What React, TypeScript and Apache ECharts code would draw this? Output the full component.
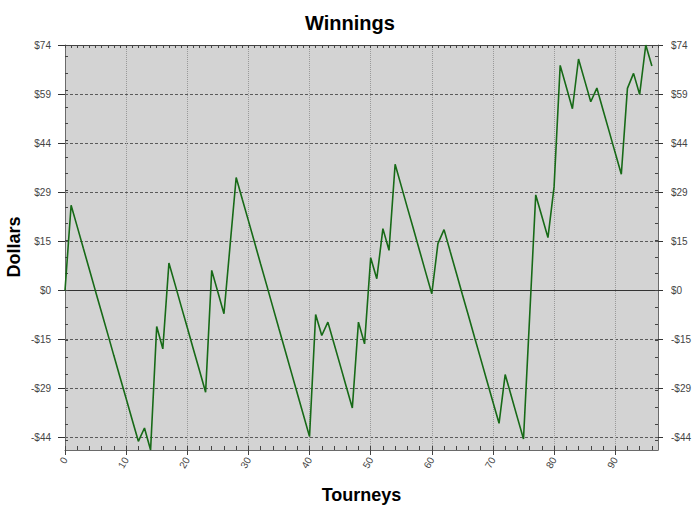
import React, { useEffect, useRef } from "react";
import * as echarts from "echarts";

// Cumulative winnings per tourney (index = tourney number)
const winnings = [
  0, 25.5, 19.1, 12.6, 6.2, -0.3, -6.7, -13.1, -19.6, -26.0,
  -32.4, -38.8, -45.2, -41.2, -47.8, -10.8, -17.5, 8.2, 1.8, -4.7,
  -11.1, -17.6, -24.0, -30.5, 6.0, -0.5, -7.0, 13.4, 33.8, 27.3,
  20.9, 14.4, 7.9, 1.5, -5.0, -11.5, -17.9, -24.4, -30.9, -37.3,
  -43.8, -7.2, -13.5, -9.5, -15.9, -22.3, -28.8, -35.2, -9.5, -16.0,
  9.8, 3.5, 18.5, 12.0, 37.8, 31.3, 24.8, 18.4, 11.9, 5.4,
  -1.0, 14.0, 18.2, 11.7, 5.3, -1.2, -7.6, -14.1, -20.5, -27.0,
  -33.4, -39.8, -25.2, -31.6, -38.1, -44.5, -8.0, 28.6, 22.2, 15.8,
  31.0, 67.4, 60.9, 54.4, 69.3, 62.9, 56.5, 60.6, 54.1, 47.7,
  41.2, 34.8, 60.5, 65.0, 58.7, 73.5, 67.2,
];

const yMajorTicks = [-44.1, -29.4, -14.7, 0, 14.7, 29.4, 44.1, 58.8, 73.5];
const yMinorTicks = [-45, -40, -35, -30, -25, -20, -15, -10, -5, 0, 5, 10, 15, 20, 25, 30, 35, 40, 45, 50, 55, 60, 65, 70];
const xLabelTicks = [0, 10, 20, 30, 40, 50, 60, 70, 80, 90];
const xMinorTicks = Array.from({ length: 49 }, (_, i) => i * 2);
const xTopTicks = Array.from({ length: 98 }, (_, i) => i);

const Y_MIN = -47.8;
const Y_MAX = 73.5;
const X_MAX = 97;
const FONT = "'Liberation Sans', Arial, sans-serif";

const fmtDollar = (v: number) => (v < 0 ? "-$" : "$") + Math.round(Math.abs(v));

export default function App() {
  const ref = useRef<HTMLDivElement>(null);
  useEffect(() => {
    if (!ref.current) return;
    const chart = echarts.init(ref.current, null, { renderer: "svg" });
    const hiddenAxisBase = {
      axisLabel: { show: false },
      splitLine: { show: false },
    };
    chart.setOption({
      animation: false,
      backgroundColor: "#ffffff",
      title: {
        text: "Winnings",
        left: "center",
        top: 8,
        textStyle: { fontSize: 20, fontWeight: "bold", fontFamily: FONT, color: "#000" },
      },
      graphic: [
        {
          type: "text",
          x: 14,
          y: 247,
          rotation: Math.PI / 2,
          style: {
            text: "Dollars",
            fontSize: 18,
            fontWeight: "bold",
            fontFamily: FONT,
            fill: "#000",
            align: "center",
            verticalAlign: "middle",
          },
        },
      ],
      grid: {
        left: 65,
        right: 42,
        top: 45,
        bottom: 59,
        containLabel: false,
        outerBoundsMode: "none",
        show: true,
        backgroundColor: "#d3d3d3",
        borderWidth: 0,
      },
      xAxis: [
        {
          type: "value",
          position: "bottom",
          min: 0,
          max: X_MAX,
          interval: 10,
          name: "Tourneys",
          nameLocation: "middle",
          nameGap: 36,
          nameTextStyle: { fontSize: 18, fontWeight: "bold", fontFamily: FONT, color: "#000" },
          axisLine: { show: true, onZero: false, lineStyle: { color: "#6a6a6a", width: 1 } },
          axisTick: { show: true, length: 5, customValues: xLabelTicks, lineStyle: { color: "#444" } },
          axisLabel: {
            customValues: xLabelTicks,
            rotate: 60,
            margin: 8,
            fontSize: 10,
            fontFamily: FONT,
            color: "#444",
          },
          splitLine: { show: true, lineStyle: { type: "dotted", color: "#999", width: 1 } },
        },
        {
          type: "value",
          position: "bottom",
          min: 0,
          max: X_MAX,
          axisLine: { show: false, onZero: false },
          axisTick: { show: true, inside: true, length: 4, customValues: xMinorTicks, lineStyle: { color: "#444" } },
          ...hiddenAxisBase,
        },
        {
          type: "value",
          position: "top",
          min: 0,
          max: X_MAX,
          axisLine: { show: true, onZero: false, lineStyle: { color: "#444" } },
          axisTick: { show: true, inside: true, length: 3, customValues: xTopTicks, lineStyle: { color: "#444" } },
          ...hiddenAxisBase,
        },
        {
          type: "value",
          position: "bottom",
          min: 0,
          max: X_MAX,
          axisLine: { show: true, onZero: true, onZeroAxisIndex: 0, lineStyle: { color: "#333", width: 1 } },
          axisTick: { show: false },
          ...hiddenAxisBase,
        },
      ],
      yAxis: [
        {
          type: "value",
          position: "left",
          min: Y_MIN,
          max: Y_MAX,
          axisLine: { show: true, onZero: false, lineStyle: { color: "#6a6a6a" } },
          axisTick: { show: true, length: 7, customValues: yMajorTicks, lineStyle: { color: "#333" } },
          axisLabel: { customValues: yMajorTicks, formatter: fmtDollar, margin: 14, fontSize: 10, fontFamily: FONT, color: "#444" },
          splitLine: { show: true, lineStyle: { type: [3, 2], color: "#5a5a5a", width: 1 } },
        },
        {
          type: "value",
          position: "right",
          min: Y_MIN,
          max: Y_MAX,
          axisLine: { show: true, onZero: false, lineStyle: { color: "#6a6a6a" } },
          axisTick: { show: true, length: 5, customValues: yMajorTicks, lineStyle: { color: "#333" } },
          axisLabel: { customValues: yMajorTicks, formatter: fmtDollar, margin: 13, fontSize: 10, fontFamily: FONT, color: "#444" },
          splitLine: { show: false },
        },
        {
          type: "value",
          position: "left",
          min: Y_MIN,
          max: Y_MAX,
          axisLine: { show: false, onZero: false },
          axisTick: { show: true, inside: true, length: 3, customValues: yMinorTicks, lineStyle: { color: "#444" } },
          ...hiddenAxisBase,
        },
        {
          type: "value",
          position: "right",
          min: Y_MIN,
          max: Y_MAX,
          axisLine: { show: false, onZero: false },
          axisTick: { show: true, inside: true, length: 3, customValues: yMinorTicks, lineStyle: { color: "#444" } },
          ...hiddenAxisBase,
        },
      ],
      series: [
        {
          type: "line",
          xAxisIndex: 0,
          yAxisIndex: 0,
          data: winnings.map((v, i) => [i, v]),
          symbol: "none",
          showSymbol: false,
          lineStyle: { color: "#176a17", width: 1.6 },
          z: 5,
        },
      ],
    });
    return () => chart.dispose();
  }, []);
  return (
    <div
      ref={ref}
      style={{ position: "fixed", left: 0, top: 0, width: 700, height: 509, background: "#fff" }}
    />
  );
}
